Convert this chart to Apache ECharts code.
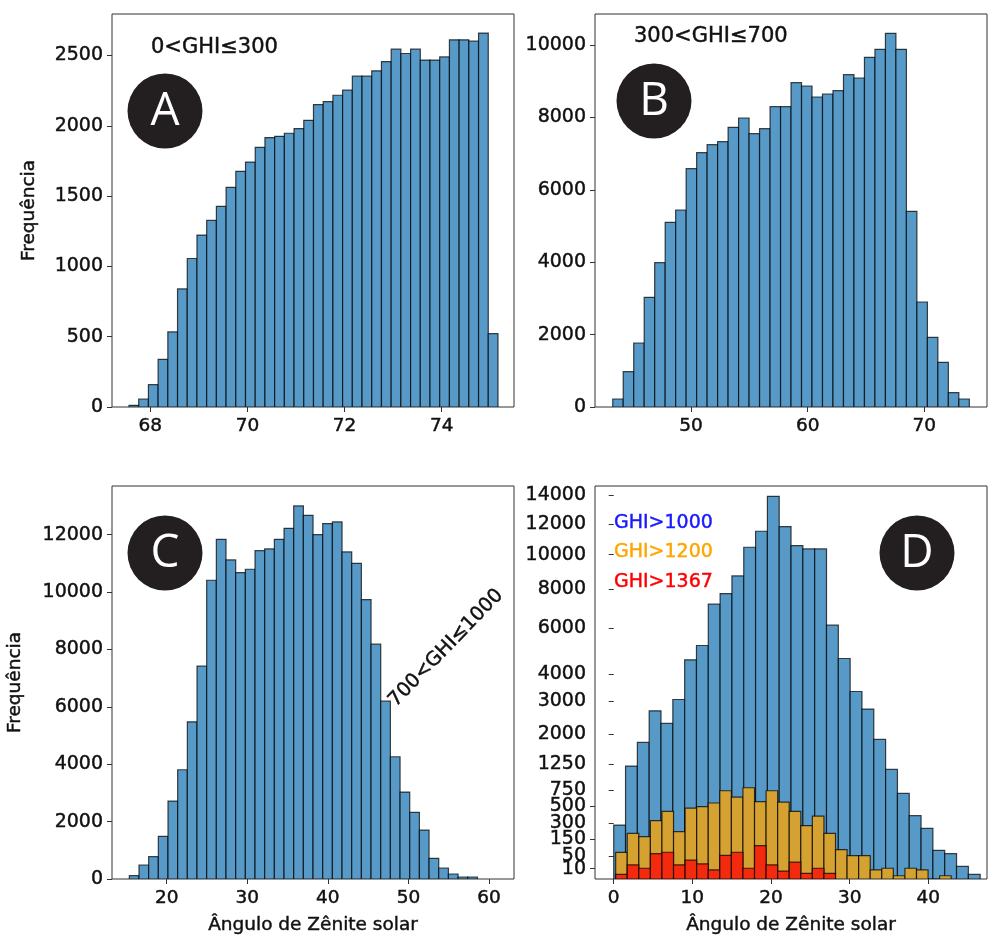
<!DOCTYPE html>
<html>
<head>
<meta charset="utf-8">
<script src="https://cdn.jsdelivr.net/npm/echarts@6/dist/echarts.min.js"></script>
<style>
  html, body { margin: 0; padding: 0; background: #fff; }
  #chart { width: 988px; height: 936px; }
</style>
</head>
<body>
<div id="chart"></div>
<script>
// Histogram counts of solar zenith angle for each irradiance class.
// Each panel: first bin edge, bin width, counts per bin.

// A: 0 < GHI <= 300
const binStartA = 67.56;
const binWidthA = 0.2;
const countsA = [12, 57, 159, 339, 534, 840, 1056, 1223, 1327, 1427, 1562, 1676, 1742, 1847,
  1916, 1925, 1947, 1980, 2039, 2151, 2172, 2217, 2253, 2353, 2353, 2391, 2457, 2545, 2514,
  2545, 2467, 2467, 2490, 2611, 2611, 2602, 2659, 522];
const xTicksA = [68, 70, 72, 74];
const yTicksA = [0, 500, 1000, 1500, 2000, 2500];

// B: 300 < GHI <= 700
const binStartB = 43.29;
const binWidthB = 0.899;
const countsB = [221, 976, 1768, 3029, 3987, 5101, 5442, 6584, 7026, 7247, 7330, 7725, 7983,
  7551, 7689, 8296, 8296, 8959, 8867, 8563, 8646, 8738, 9180, 9088, 9659, 9880, 10322, 9880,
  5405, 2900, 1924, 1234, 396, 221];
const xTicksB = [50, 60, 70];
const yTicksB = [0, 2000, 4000, 6000, 8000, 10000];

// C: 700 < GHI <= 1000
const binStartC = 15.36;
const binWidthC = 1.2;
const countsC = [116, 487, 778, 1485, 2716, 3806, 5478, 7416, 10410, 11837, 11118, 10677,
  10793, 11442, 11501, 11837, 12220, 12998, 12673, 12000, 12383, 12441, 11396, 11001, 9737,
  8182, 6197, 4259, 3029, 2321, 1706, 720, 383, 174, 70, 70];
const xTicksC = [20, 30, 40, 50, 60];
const yTicksC = [0, 2000, 4000, 6000, 8000, 10000, 12000];

// D: GHI above 1000 / 1200 / 1367 (square-root count axis)
const binStartD1000 = 0.0;
const binWidthD1000 = 1.503;
const countsD1000 = [277, 1213, 1774, 2691, 2301, 3065, 4569, 5185, 7182, 7750, 8738, 10468,
  11501, 13931, 11811, 10573, 10363, 10363, 6127, 4624, 3344, 2745, 1852, 1142, 697, 381, 244,
  78, 61, 15, 2];
const binStartD1200 = 0.25;
const binWidthD1200 = 1.471;
const countsD1200 = [67, 198, 170, 323, 435, 213, 479, 497, 549, 741, 639, 792, 568, 741, 563,
  435, 270, 377, 198, 82, 52, 52, 8, 11, 1, 11, 8, 0, 1];
const binStartD1367 = 0.25;
const binWidthD1367 = 1.471;
const countsD1367 = [2, 19, 11, 61, 68, 19, 34, 22, 8, 53, 68, 11, 106, 19, 6, 27, 3, 11, 3];
const xTicksD = [0, 10, 20, 30, 40];
const yTicksD = [10, 50, 150, 300, 500, 750, 1250, 2000, 3000, 4000, 6000, 8000, 10000, 12000, 14000];

const FONT = 'DejaVu Sans';
const TEXT = '#111';
const EDGE = 'rgba(0,0,0,0.72)';
const BLUE = '#5799c7';
const ORANGE = '#d5a232';
const RED = '#f32a0e';

// slightly heavier text strokes
function heavy(color, size) {
  return { color: color, fontFamily: FONT, fontSize: size,
    textBorderColor: color, textBorderWidth: 0.45 };
}

// [left edge, right edge, height] for every bin
function binsOf(start, width, counts, tf) {
  return counts.map((c, i) => [start + i * width, start + (i + 1) * width, tf ? tf(c) : c]);
}

function histRender(fill) {
  return function (params, api) {
    const h = api.value(2);
    const a = api.coord([api.value(0), h]);
    const b = api.coord([api.value(1), 0]);
    return {
      type: 'rect',
      shape: { x: a[0], y: a[1], width: b[0] - a[0], height: b[1] - a[1] },
      style: { fill: fill, stroke: EDGE, lineWidth: 1.2 }
    };
  };
}

function histSeries(idx, data, fill) {
  return {
    type: 'custom',
    xAxisIndex: idx, yAxisIndex: idx,
    renderItem: histRender(fill),
    encode: { x: [0, 1], y: 2 },
    clip: true,
    silent: true,
    data: data
  };
}

function xAxisOf(idx, min, max, ticks, name) {
  return {
    type: 'value', gridIndex: idx, min: min, max: max,
    splitLine: { show: false },
    axisLine: { show: false },
    axisTick: { show: true, length: 5, inside: false, customValues: ticks,
      lineStyle: { color: '#333', width: 1 } },
    axisLabel: Object.assign({ customValues: ticks, margin: 10, hideOverlap: false,
      formatter: v => String(v) }, heavy(TEXT, 18.5)),
    name: name || '', nameLocation: 'middle', nameGap: 37,
    nameTextStyle: heavy(TEXT, 18.5)
  };
}

function yAxisOf(idx, min, max, ticks, name, gap, fmt) {
  return {
    type: 'value', gridIndex: idx, min: min, max: max,
    splitLine: { show: false },
    axisLine: { show: false },
    axisTick: { show: true, length: 5, inside: false, customValues: ticks,
      lineStyle: { color: '#333', width: 1 } },
    axisLabel: Object.assign({ customValues: ticks, margin: 9, hideOverlap: false,
      showMinLabel: true, showMaxLabel: true,
      formatter: fmt || (v => String(v)) }, heavy(TEXT, 19)),
    name: name || '', nameLocation: 'middle', nameGap: gap || 0, nameRotate: 90,
    nameTextStyle: heavy(TEXT, 18.5)
  };
}

const sq = Math.sqrt;
const fromSq = v => String(Math.round(v * v));
const gridBase = { show: true, borderColor: '#333', borderWidth: 1, backgroundColor: 'transparent',
  containLabel: false, outerBoundsMode: 'none' };

// D's low ticks are packed tightly; alternate ones go on a twin axis of the same scale
const twinIdx = [0, 2, 4];
const yTicksDTwin = yTicksD.filter((v, i) => twinIdx.includes(i)).map(sq);
const yTicksDMain = yTicksD.filter((v, i) => !twinIdx.includes(i)).map(sq);
const yMaxD = 121.2;

function badge(cx, cy, letter) {
  return [
    { type: 'circle', shape: { cx: cx, cy: cy, r: 37.5 }, style: { fill: '#231f20' }, z: 100 },
    { type: 'text', x: cx, y: cy + 1, z: 101,
      style: { text: letter, fill: '#fff', font: '46px "Open Sans"', align: 'center', verticalAlign: 'middle' } }
  ];
}

function label(x, y, text, color, size, rot, align) {
  return { type: 'text', x: x, y: y, rotation: rot || 0, z: 100,
    style: { text: text, fill: color, fontFamily: FONT, fontSize: size,
      stroke: color, lineWidth: 0.45,
      align: align || 'left', verticalAlign: 'middle' } };
}

const option = {
  animation: false,
  backgroundColor: '#fff',
  grid: [
    Object.assign({ left: 112, top: 14, width: 402, height: 393 }, gridBase),
    Object.assign({ left: 595, top: 14, width: 392, height: 393 }, gridBase),
    Object.assign({ left: 112, top: 486, width: 402, height: 393 }, gridBase),
    Object.assign({ left: 595, top: 486, width: 392, height: 393 }, gridBase)
  ],
  xAxis: [
    xAxisOf(0, 67.21, 75.49, xTicksA),
    xAxisOf(1, 41.77, 75.37, xTicksB),
    xAxisOf(2, 13.21, 63.10, xTicksC, 'Ângulo de Zênite solar'),
    xAxisOf(3, -2.38, 47.46, xTicksD, 'Ângulo de Zênite solar')
  ],
  yAxis: [
    yAxisOf(0, 0, 2795, yTicksA, 'Frequência', 73),
    yAxisOf(1, 0, 10856, yTicksB),
    yAxisOf(2, 0, 13694, yTicksC, 'Frequência', 87),
    yAxisOf(3, 0, yMaxD, yTicksDMain, '', 0, fromSq),
    Object.assign(yAxisOf(3, 0, yMaxD, yTicksDTwin, '', 0, fromSq), { position: 'left' })
  ],
  series: [
    histSeries(0, binsOf(binStartA, binWidthA, countsA), BLUE),
    histSeries(1, binsOf(binStartB, binWidthB, countsB), BLUE),
    histSeries(2, binsOf(binStartC, binWidthC, countsC), BLUE),
    histSeries(3, binsOf(binStartD1000, binWidthD1000, countsD1000, sq), BLUE),
    histSeries(3, binsOf(binStartD1200, binWidthD1200, countsD1200, sq), ORANGE),
    histSeries(3, binsOf(binStartD1367, binWidthD1367, countsD1367, sq), RED)
  ],
  graphic: [].concat(
    badge(165, 111, 'A'),
    badge(654, 101, 'B'),
    badge(165, 553, 'C'),
    badge(917, 553, 'D'),
    [
      label(151, 48, '0<GHI≤300', TEXT, 21),
      label(634, 37, '300<GHI≤700', TEXT, 21),
      label(446, 648, '700<GHI≤1000', TEXT, 19.5, 46 * Math.PI / 180, 'center'),
      label(614, 523, 'GHI>1000', '#1a1aff', 19),
      label(614, 552, 'GHI>1200', '#ffa500', 19),
      label(614, 582, 'GHI>1367', '#ff0000', 19)
    ]
  )
};

const chart = echarts.init(document.getElementById('chart'), null, { renderer: 'canvas' });
chart.setOption(option);
</script>
</body>
</html>
